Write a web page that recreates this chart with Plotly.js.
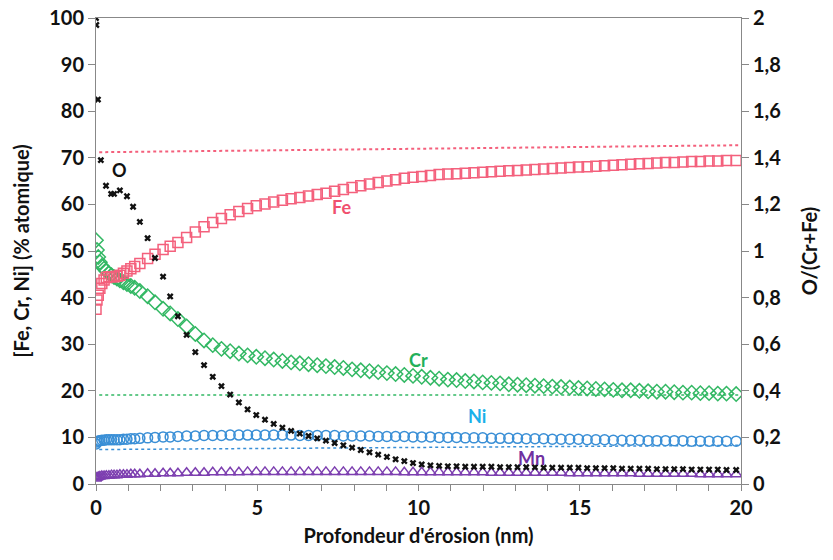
<!DOCTYPE html>
<html>
<head>
<meta charset="utf-8">
<script src="https://cdn.plot.ly/plotly-3.0.1.min.js"></script>
<style>html,body{margin:0;padding:0;background:#fff;}#chart{width:833px;height:560px;}</style>
</head>
<body>
<div id="chart"></div>
<script>
// Depth (nm) shared by Fe, Cr, Ni, Mn
const depth = [0, 0.03, 0.07, 0.12, 0.18, 0.25, 0.32, 0.4, 0.48, 0.56, 0.65, 0.74, 0.85, 0.96, 1.08, 1.2, 1.36, 1.6, 1.83, 2.08, 2.3, 2.54,
  2.81, 3.08, 3.35, 3.62, 3.89, 4.16, 4.43, 4.7, 4.97, 5.24,
  5.51, 5.78, 6.05, 6.32, 6.59, 6.86, 7.13, 7.4, 7.67, 7.94,
  8.21, 8.48, 8.75, 9.02, 9.29, 9.56, 9.83, 10.1, 10.37, 10.64,
  10.91, 11.18, 11.45, 11.72, 11.99, 12.26, 12.53, 12.8, 13.07, 13.34,
  13.61, 13.88, 14.15, 14.42, 14.69, 14.96, 15.23, 15.5, 15.77, 16.04,
  16.31, 16.58, 16.85, 17.12, 17.39, 17.66, 17.93, 18.2, 18.47, 18.74,
  19.01, 19.28, 19.55, 19.85];

const fe = [37.5, 39.5, 40.5, 42, 43, 43.8, 44.3, 44.5, 44.5, 44.5, 44.6, 44.8, 45.2, 45.7, 46.2, 46.7, 47.3, 48.4, 49.3, 50.3, 51.0, 51.8,
  52.9, 54.1, 55.2, 56.1, 57.0, 57.8, 58.5, 59.1, 59.7, 60.1,
  60.5, 60.9, 61.2, 61.5, 61.8, 62.1, 62.4, 62.8, 63.2, 63.6,
  64.0, 64.4, 64.7, 65.0, 65.3, 65.6, 65.8, 66.0, 66.2, 66.4,
  66.5, 66.6, 66.7, 66.8, 66.9, 67.0, 67.1, 67.2, 67.3, 67.4,
  67.5, 67.6, 67.7, 67.8, 67.9, 68.0, 68.1, 68.2, 68.3, 68.4,
  68.5, 68.6, 68.7, 68.8, 68.9, 69.0, 69.0, 69.1, 69.2, 69.2,
  69.3, 69.3, 69.4, 69.4];

const cr = [52.3, 50.2, 48.7, 47.6, 46.8, 46.2, 45.7, 45.2, 44.8, 44.4, 44.1, 43.7, 43.3, 42.9, 42.5, 42.1, 41.4, 40.3, 39.0, 37.6, 36.6, 35.4,
  33.8, 32.2, 30.8, 29.8, 29.0, 28.5, 28.0, 27.6, 27.3, 27.0,
  26.7, 26.4, 26.1, 25.9, 25.7, 25.5, 25.3, 25.1, 24.9, 24.6,
  24.4, 24.2, 24.0, 23.8, 23.6, 23.4, 23.2, 23.0, 22.8, 22.6,
  22.4, 22.3, 22.1, 22.0, 21.8, 21.7, 21.6, 21.4, 21.3, 21.2,
  21.1, 21.0, 20.9, 20.8, 20.7, 20.6, 20.5, 20.4, 20.3, 20.2,
  20.1, 20.1, 20.0, 19.9, 19.8, 19.8, 19.7, 19.6, 19.6, 19.5,
  19.5, 19.4, 19.4, 19.3];

const ni = [8.6, 9.0, 9.2, 9.3, 9.4, 9.4, 9.5, 9.5, 9.5, 9.5, 9.5, 9.5, 9.6, 9.6, 9.7, 9.7, 9.8, 9.9, 10.0, 10.1, 10.1, 10.2,
  10.3, 10.3, 10.4, 10.4, 10.4, 10.5, 10.5, 10.5, 10.5, 10.5,
  10.5, 10.5, 10.5, 10.4, 10.4, 10.4, 10.4, 10.4, 10.3, 10.3,
  10.3, 10.3, 10.2, 10.2, 10.2, 10.2, 10.1, 10.1, 10.1, 10.0,
  10.0, 10.0, 9.9, 9.9, 9.9, 9.8, 9.8, 9.8, 9.8, 9.7,
  9.7, 9.7, 9.6, 9.6, 9.6, 9.6, 9.5, 9.5, 9.5, 9.4,
  9.4, 9.4, 9.4, 9.3, 9.3, 9.3, 9.3, 9.3, 9.2, 9.2,
  9.2, 9.2, 9.2, 9.2];

const mn = [1.2, 1.4, 1.5, 1.6, 1.7, 1.7, 1.8, 1.8, 1.9, 1.9, 1.9, 2.0, 2.0, 2.0, 2.1, 2.1, 2.1, 2.2, 2.2, 2.3, 2.3, 2.3,
  2.4, 2.4, 2.4, 2.5, 2.5, 2.5, 2.5, 2.6, 2.6, 2.6,
  2.6, 2.6, 2.6, 2.6, 2.6, 2.6, 2.6, 2.6, 2.6, 2.6,
  2.6, 2.6, 2.6, 2.6, 2.6, 2.5, 2.5, 2.5, 2.5, 2.5,
  2.5, 2.5, 2.5, 2.5, 2.5, 2.4, 2.4, 2.4, 2.4, 2.4,
  2.4, 2.4, 2.4, 2.4, 2.3, 2.3, 2.3, 2.3, 2.3, 2.3,
  2.3, 2.3, 2.2, 2.2, 2.2, 2.2, 2.2, 2.2, 2.2, 2.1,
  2.1, 2.1, 2.1, 2.1];

// O/(Cr+Fe) ratio (right axis)
const oDepthStart = [0, 0.01, 0.06, 0.15, 0.31, 0.47, 0.56, 0.74, 0.96, 1.15, 1.36, 1.6, 1.83, 2.08, 2.3, 2.54];
const oDepth = oDepthStart.concat(depth.slice(22));
const oRatio = [2.0, 1.97, 1.65, 1.39, 1.28, 1.245, 1.245, 1.26, 1.235, 1.19, 1.125, 1.055, 0.97, 0.89, 0.805, 0.72,
  0.64, 0.566, 0.51, 0.46, 0.42, 0.384, 0.35, 0.32, 0.296, 0.276,
  0.258, 0.242, 0.228, 0.216, 0.206, 0.196, 0.186, 0.176, 0.166, 0.156,
  0.146, 0.136, 0.126, 0.116, 0.106, 0.098, 0.09, 0.084, 0.08, 0.078,
  0.076, 0.076, 0.074, 0.074, 0.074, 0.074, 0.072, 0.072, 0.072, 0.072,
  0.072, 0.07, 0.07, 0.07, 0.07, 0.07, 0.068, 0.068, 0.068, 0.068,
  0.066, 0.066, 0.066, 0.066, 0.064, 0.064, 0.064, 0.064, 0.062, 0.062,
  0.062, 0.062, 0.06, 0.06];

// Reference (bulk) levels, dotted lines
const refX = [0.1, 20];
const feRef = [71.2, 72.7];
const crRef = [19.1, 19.1];
const niRef = [7.4, 8.3];

const labels = ['O', 'Fe', 'Cr', 'Ni', 'Mn'];
const labelX = [0.74, 7.6, 10.0, 11.8, 13.5];
const labelY = [67.4, 59.4, 26.6, 14.6, 5.6];

const cFe = '#f4607c', cCr = '#33b864', cNi = '#3a8fd6', cMn = '#7d3fb0', cO = '#111111';
const labelColors = ['#111111', '#f0506e', '#22b05a', '#1ab0ea', '#7030a0'];
const FONT = 'Lato, "Open Sans", sans-serif';

const traces = [
  {x: refX, y: feRef, mode: 'lines', line: {color: cFe, dash: 'dot', width: 2}, hoverinfo: 'skip'},
  {x: refX, y: crRef, mode: 'lines', line: {color: cCr, dash: 'dot', width: 1.5}, hoverinfo: 'skip'},
  {x: refX, y: niRef, mode: 'lines', line: {color: cNi, dash: 'dot', width: 1.5}, hoverinfo: 'skip'},
  {x: depth, y: mn, mode: 'markers', marker: {symbol: 'triangle-up-open', size: 10, color: cMn, line: {width: 1.5}}},
  {x: depth, y: ni, mode: 'markers', marker: {symbol: 'circle-open', size: 10, color: cNi, line: {width: 1.5}}},
  {x: depth, y: cr, mode: 'markers', marker: {symbol: 'diamond-open', size: 11, color: cCr, line: {width: 1.5}}},
  {x: depth, y: fe, mode: 'markers', marker: {symbol: 'square-open', size: 10, color: cFe, line: {width: 1.5}}},
  {x: oDepth, y: oRatio, yaxis: 'y2', mode: 'markers', marker: {symbol: 'x', size: 6, color: cO, line: {width: 0}}}
];

const annotations = labels.map((t, i) => ({
  x: labelX[i], y: labelY[i], xref: 'x', yref: 'y', text: '<b>' + t + '</b>', showarrow: false,
  font: {family: FONT, size: 18, color: labelColors[i]}
}));

const TF = {family: FONT, size: 20, weight: 'bold', color: '#111'};

const layout = {
  width: 833, height: 560,
  margin: {l: 96, r: 92, t: 18, b: 76},
  paper_bgcolor: '#fff', plot_bgcolor: '#fff',
  showlegend: false,
  separators: ', ',
  font: {family: FONT, size: 20, color: '#111', weight: 'bold'},
  xaxis: {
    range: [0, 20], tickvals: [0, 5, 10, 15, 20], ticks: 'outside', ticklen: 6, tickcolor: '#888',
    minor: {dtick: 1, ticks: 'outside', ticklen: 6, tickcolor: '#888'},
    showline: true, linecolor: '#888', linewidth: 1, mirror: true, showgrid: false, zeroline: false,
    tickfont: TF,
    title: {text: "<b>Profondeur d'érosion (nm)</b>", font: {family: FONT, size: 20}, standoff: 10}
  },
  yaxis: {
    range: [0, 100], dtick: 10, ticks: 'outside', ticklen: 7, tickcolor: '#888',
    showline: true, linecolor: '#888', linewidth: 1, showgrid: false, zeroline: false,
    tickfont: TF,
    title: {text: '<b>[Fe, Cr, Ni] (% atomique)</b>', font: {family: FONT, size: 20}, standoff: 14}
  },
  yaxis2: {
    range: [0, 2], dtick: 0.2, overlaying: 'y', side: 'right', ticks: 'outside', ticklen: 7, tickcolor: '#888',
    showline: true, linecolor: '#888', linewidth: 1, showgrid: false, zeroline: false,
    tickfont: TF,
    title: {text: '<b>O/(Cr+Fe)</b>', font: {family: FONT, size: 20}, standoff: 22}
  },
  annotations: annotations
};

Plotly.newPlot('chart', traces, layout, {staticPlot: true, displayModeBar: false});
</script>
</body>
</html>
